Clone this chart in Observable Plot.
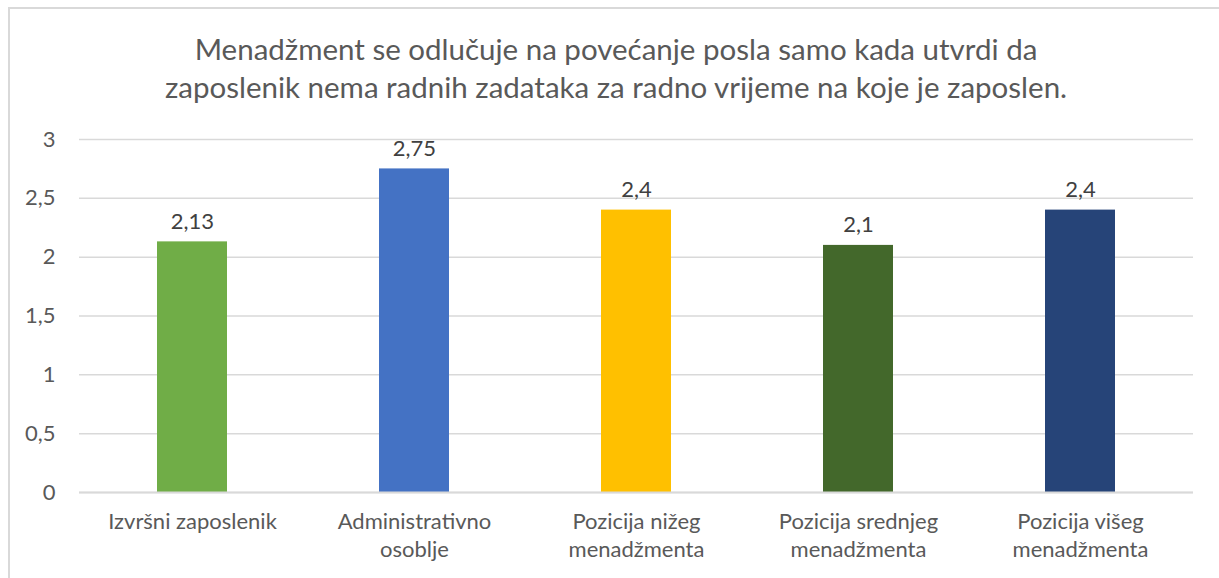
<!DOCTYPE html>
<html>
<head>
<meta charset="utf-8">
<script src="https://cdn.jsdelivr.net/npm/d3@7"></script>
<script src="https://cdn.jsdelivr.net/npm/@observablehq/plot@0.6"></script>
<style>
  html, body { margin: 0; padding: 0; background: #fff; width: 1219px; height: 578px; overflow: hidden; }
  #frame { position: absolute; left: 8px; top: 7px; width: 1240px; height: 600px; border: 2px solid #d9d9d9; box-sizing: border-box; }
  #title { position: absolute; left: 0; top: 0; width: 1232px; height: 120px; text-align: center;
           font-family: Lato, "Open Sans", sans-serif; font-size: 29.5px; color: #595959; line-height: 38px; padding-top: 30px; box-sizing: border-box; }
  #chart { position: absolute; left: 0; top: 120px; }
</style>
</head>
<body>
<div id="frame"></div>
<div id="title">Menadžment se odlučuje na povećanje posla samo kada utvrdi da<br>zaposlenik nema radnih zadataka za radno vrijeme na koje je zaposlen.</div>
<div id="chart"></div>
<script>
const categories = ["Izvršni zaposlenik", "Administrativno osoblje", "Pozicija nižeg menadžmenta", "Pozicija srednjeg menadžmenta", "Pozicija višeg menadžmenta"];
const tickLabels = ["Izvršni zaposlenik", "Administrativno\nosoblje", "Pozicija nižeg\nmenadžmenta", "Pozicija srednjeg\nmenadžmenta", "Pozicija višeg\nmenadžmenta"];
const values = [2.13, 2.75, 2.4, 2.1, 2.4];
const colors = ["#70ad47", "#4472c4", "#ffc000", "#43682b", "#264478"];
const yTicks = [0, 0.5, 1, 1.5, 2, 2.5, 3];

const data = categories.map((c, i) => ({cat: c, value: values[i], color: colors[i], label: tickLabels[i]}));
const fmt = v => String(v).replace(".", ",");

const chart = Plot.plot({
  width: 1219,
  height: 458,
  marginTop: 19,
  marginBottom: 86,
  marginLeft: 79,
  marginRight: 26,
  style: {fontFamily: "Lato, 'Open Sans', sans-serif", fontSize: "22px", color: "#595959", background: "transparent"},
  x: {domain: categories, paddingInner: 0.686, paddingOuter: 0.343, label: null},
  y: {domain: [0, 3], label: null},
  marks: [
    Plot.gridY(yTicks, {stroke: "#d9d9d9", strokeOpacity: 1, strokeWidth: 1.5}),
    Plot.axisY(yTicks, {tickSize: 0, tickPadding: 24, tickFormat: fmt, fontSize: 22, fill: "#595959", label: null}),
    Plot.barY(data, {x: "cat", y: "value", fill: "color"}),
    Plot.ruleY([0], {stroke: "#d9d9d9", strokeWidth: 2}),
    Plot.axisX({tickSize: 0, tickPadding: 17, tickFormat: c => tickLabels[categories.indexOf(c)], fontSize: 22, lineHeight: 1.25, fill: "#595959", label: null}),
    Plot.text(data, {x: "cat", y: "value", text: d => fmt(d.value), dy: -20, fontSize: 22, fill: "#404040"})
  ]
});
document.getElementById("chart").appendChild(chart);
</script>
</body>
</html>
